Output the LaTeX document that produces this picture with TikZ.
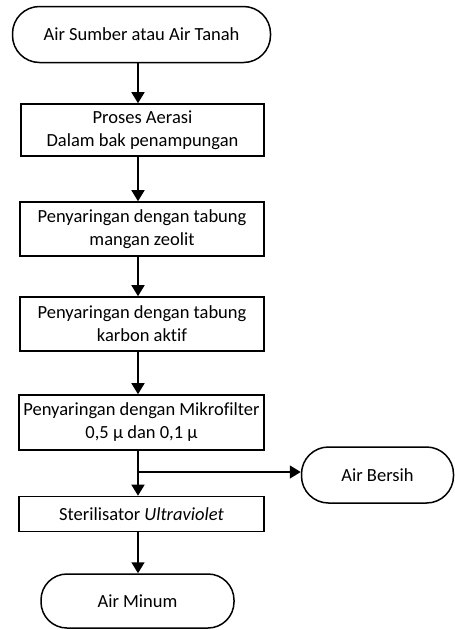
\documentclass[tikz,border=0pt]{standalone}
\usepackage{fontspec}
\setmainfont[Ligatures=NoCommon]{Carlito}
\usetikzlibrary{arrows.meta}

\tikzset{
    stepbox/.style={draw, line width=1.6pt, rectangle, align=center, inner sep=0pt},
    termbox/.style={draw, line width=1.5pt, rectangle, align=center, inner sep=0pt},
    flow/.style={line width=1.6pt, -{Triangle[width=13pt,length=11pt]}}
}

\begin{document}
\begin{tikzpicture}[x=1pt,y=-1pt, every node/.style={font=\fontsize{18.5}{23}\selectfont}]
    % fix the page to the reference size
    \useasboundingbox (0,0) rectangle (455,630);

    % the main line of the flow
    \coordinate (spine) at (138,0);

    % start and end
    \node[termbox, rounded corners=27pt, minimum width=258pt, minimum height=56pt] (start) at (141.5,34.5) {Air Sumber atau Air Tanah};
    \node[termbox, rounded corners=26pt, minimum width=193pt, minimum height=54pt] (minum) at (137.5,601) {Air Minum};
    \node[termbox, rounded corners=27pt, minimum width=152pt, minimum height=56pt] (bersih) at (377.5,475) {Air Bersih};

    % the process steps
    \node[stepbox, minimum width=243pt, minimum height=52pt] (aerasi) at (142.5,130) {Proses Aerasi\\Dalam bak penampungan};
    \node[stepbox, minimum width=244pt, minimum height=54pt] (zeolit) at (142,229) {Penyaringan dengan tabung\\mangan zeolit};
    \node[stepbox, minimum width=244pt, minimum height=54pt] (karbon) at (142,324) {Penyaringan dengan tabung\\karbon aktif};
    \node[stepbox, minimum width=245pt, minimum height=55pt] (mikro) at (141.5,422.5) {Penyaringan dengan Mikrofilter\\0,5 μ dan 0,1 μ};
    \node[stepbox, minimum width=245pt, minimum height=35pt] (uv) at (141.5,514) {Sterilisator \textit{Ultraviolet}};

    % connectors
    \draw[flow] (start.south -| spine) -- (aerasi.north -| spine);
    \draw[flow] (aerasi.south -| spine) -- (zeolit.north -| spine);
    \draw[flow] (zeolit.south -| spine) -- (karbon.north -| spine);
    \draw[flow] (karbon.south -| spine) -- (mikro.north -| spine);
    \draw[flow] (mikro.south -| spine) -- (uv.north -| spine);
    \draw[flow] (uv.south -| spine) -- (minum.north -| spine);

    % branch to the clean water
    \coordinate (split) at (138,472);
    \draw[flow] (split) -- (split -| bersih.west);
\end{tikzpicture}
\end{document}
